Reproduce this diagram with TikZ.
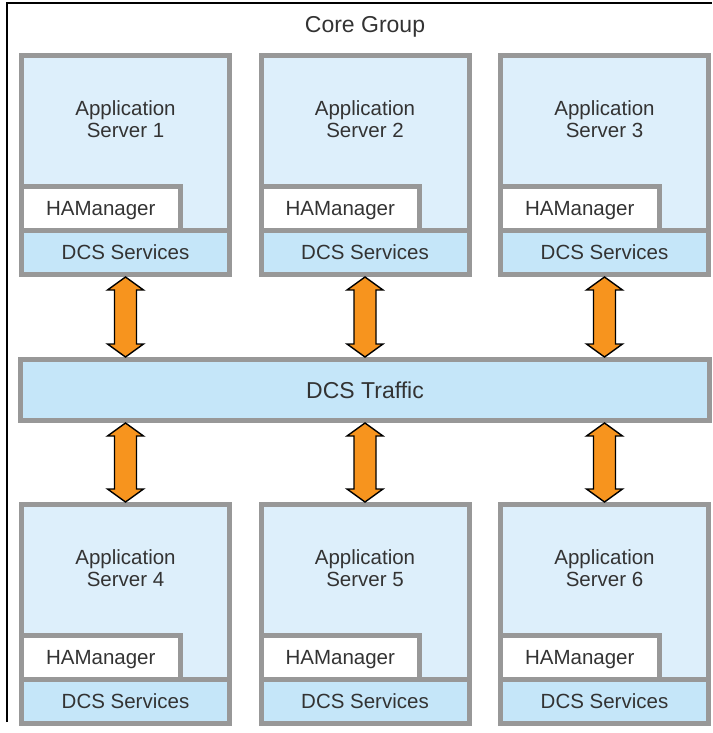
\documentclass[tikz,border=0pt]{standalone}
\usepackage{fontspec}
\setmainfont{Liberation Sans}
\usetikzlibrary{calc}
\definecolor{srvfill}{HTML}{DDEFFB}
\definecolor{dcsfill}{HTML}{C5E6F9}
\definecolor{bordergray}{HTML}{989898}
\definecolor{txt}{HTML}{333333}
\definecolor{arrorange}{HTML}{F7941E}
\begin{document}
\begin{tikzpicture}[x=1pt,y=-1pt,
  every node/.style={text=txt, font=\fontsize{20.5}{22}\selectfont},
  srvbox/.style={draw=bordergray, line width=5pt, fill=srvfill, minimum width=208pt, minimum height=219pt, inner sep=0pt},
  habox/.style={draw=bordergray, line width=5pt, fill=white, minimum width=158.5pt, minimum height=44.5pt, inner sep=0pt, anchor=south west, text depth=0pt, text height=14.7pt},
  dcsbox/.style={draw=bordergray, line width=5pt, fill=dcsfill, minimum width=208pt, minimum height=44pt, inner sep=0pt, anchor=south west},
  srvlabel/.style={align=center},
  bigtext/.style={font=\fontsize{23}{25}\selectfont},
  fat/.style={draw=black, line width=1.4pt, fill=arrorange, line join=miter}
]
\useasboundingbox (0,0) rectangle (712,733);
\draw[black, line width=1.5pt] (7,722) coordinate (fl) -- (7,3) coordinate (ftl) -- (712,3) coordinate (ftr);
\node[bigtext, anchor=base] (core) at (365,33) {Core Group};

% DCS Traffic bar
\node[draw=bordergray, line width=5pt, fill=dcsfill, minimum width=689pt, minimum height=61pt, inner sep=0pt, bigtext] (tr) at (365,390) {DCS Traffic};

\foreach \i/\cx/\cy in {1/125.5/165, 2/365/165, 3/604.5/165, 4/125.5/614, 5/365/614, 6/604.5/614}{
  \node[srvbox] (s\i) at (\cx,\cy) {};
  \node[srvlabel] (l\i) at ($(s\i.north)+(0,66.5)$) {Application\\Server \i};
  \node[habox] (h\i) at ($(s\i.south west)+(0,-44)$) {HAManager};
  \node[dcsbox] (d\i) at (s\i.south west) {DCS Services};
}

% arrows between top servers and traffic bar
\foreach \i in {1,2,3}{
  \draw[fat] (d\i.south) -- ++(18,13) -- ++(-7,0)
    -- ($(tr.north -| d\i.south)+(11,-13)$) -- ++(7,0)
    -- (tr.north -| d\i.south) -- ++(-18,-13) -- ++(7,0)
    -- ($(d\i.south)+(-11,13)$) -- ++(-7,0) -- cycle;
}
\foreach \i in {4,5,6}{
  \draw[fat] (tr.south -| s\i.north) -- ++(18,13) -- ++(-7,0)
    -- ($(s\i.north)+(11,-13)$) -- ++(7,0)
    -- (s\i.north) -- ++(-18,-13) -- ++(7,0)
    -- ($(tr.south -| s\i.north)+(-11,13)$) -- ++(-7,0) -- cycle;
}
\end{tikzpicture}
\end{document}
